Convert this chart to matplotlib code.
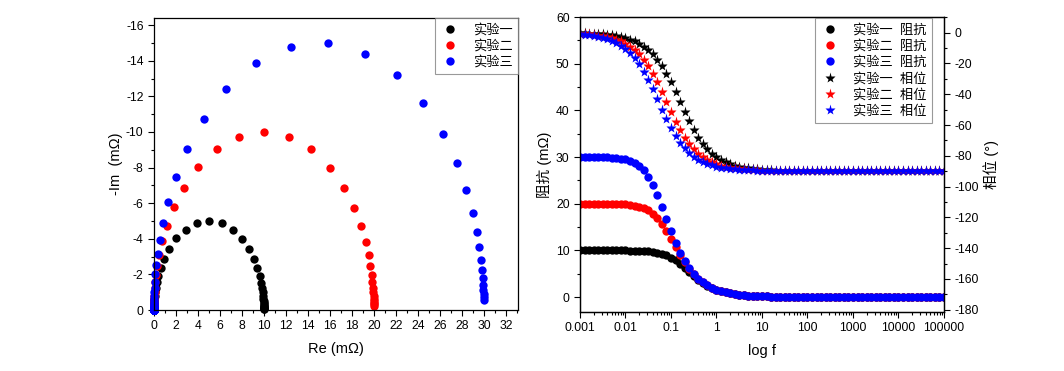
import matplotlib
matplotlib.use("Agg")
import matplotlib.pyplot as plt
from matplotlib.ticker import MultipleLocator, LogLocator, FuncFormatter, NullFormatter

plt.rcParams["font.family"] = ["Liberation Sans", "Noto Sans CJK SC", "DejaVu Sans"]
plt.rcParams["axes.unicode_minus"] = False

# ---- data ----
freq = [
    0.001, 0.00126, 0.00158, 0.002, 0.00251, 0.00316, 0.00398, 0.00501, 0.00631, 0.00794,
    0.01, 0.0126, 0.0158, 0.02, 0.0251, 0.0316, 0.0398, 0.0501, 0.0631, 0.0794,
    0.1, 0.126, 0.158, 0.2, 0.251, 0.316, 0.398, 0.501, 0.631, 0.794,
    1, 1.26, 1.58, 2, 2.51, 3.16, 3.98, 5.01, 6.31, 7.94,
    10, 12.6, 15.8, 20, 25.1, 31.6, 39.8, 50.1, 63.1, 79.4,
    100, 126, 158, 200, 251, 316, 398, 501, 631, 794,
    1000, 1260, 1580, 2000, 2510, 3160, 3980, 5010, 6310, 7940,
    10000, 12600, 15800, 20000, 25100, 31600, 39800, 50100, 63100, 79400,
    100000,
]

tail_z = [0.16, 0.13, 0.10, 0.08, 0.06, 0.05, 0.04, 0.03, 0.03, 0.02,
          0.02, 0.01, 0.01, 0.01, 0.01, 0.01, 0.0, 0.0, 0.0, 0.0] + [0.0] * 21

z1 = [10.0, 10.0, 10.0, 10.0, 10.0, 10.0, 10.0, 10.0, 9.99, 9.99,
      9.98, 9.97, 9.95, 9.92, 9.88, 9.81, 9.70, 9.54, 9.30, 8.95,
      8.47, 7.84, 7.09, 6.24, 5.35, 4.50, 3.71, 3.03, 2.45, 1.96,
      1.57, 1.25, 1.00, 0.80, 0.63, 0.50, 0.40, 0.32, 0.25, 0.20] + tail_z
z2 = [20.0, 20.0, 20.0, 19.99, 19.99, 19.98, 19.98, 19.96, 19.94, 19.90,
      19.84, 19.75, 19.61, 19.40, 19.07, 18.59, 17.89, 16.92, 15.67, 14.16,
      12.45, 10.69, 8.97, 7.41, 6.04, 4.88, 3.92, 3.14, 2.50, 1.99,
      1.59, 1.26, 1.00, 0.80, 0.63, 0.50, 0.40, 0.32, 0.25, 0.20] + tail_z
z3 = [29.99, 29.99, 29.99, 29.98, 29.97, 29.95, 29.92, 29.87, 29.79, 29.67,
      29.48, 29.19, 28.74, 28.08, 27.12, 25.77, 24.00, 21.81, 19.31, 16.66,
      14.06, 11.65, 9.52, 7.71, 6.20, 4.96, 3.96, 3.16, 2.51, 2.00,
      1.59, 1.26, 1.00, 0.80, 0.63, 0.50, 0.40, 0.32, 0.25, 0.20] + tail_z

p1 = [-0.36, -0.45, -0.57, -0.72, -0.90, -1.14, -1.43, -1.80, -2.27, -2.86,
      -3.59, -4.52, -5.69, -7.14, -8.97, -11.24, -14.04, -17.48, -21.62, -26.52,
      -32.13, -38.34, -44.89, -51.40, -57.64, -63.29, -68.21, -72.38, -75.84, -78.67,
      -80.95, -82.80, -84.27, -85.44, -86.37, -87.12, -87.71, -88.18, -88.55, -88.85,
      -89.09, -89.28, -89.42, -89.54, -89.64, -89.71, -89.77, -89.82, -89.86, -89.89,
      -89.91, -89.93, -89.94, -89.95, -89.96, -89.97, -89.98, -89.98, -89.99, -89.99] + [-90.0] * 21
p2 = [-0.72, -0.91, -1.14, -1.44, -1.81, -2.28, -2.86, -3.60, -4.53, -5.70,
      -7.16, -8.99, -11.27, -14.07, -17.51, -21.66, -26.57, -32.20, -38.41, -44.95,
      -51.49, -57.70, -63.34, -68.25, -72.41, -75.87, -78.69, -80.98, -82.81, -84.28,
      -85.45, -86.38, -87.13, -87.71, -88.18, -88.56, -88.85, -89.09, -89.28, -89.43,
      -89.54, -89.64, -89.71, -89.77, -89.82, -89.86, -89.89, -89.91, -89.93, -89.94,
      -89.95, -89.96, -89.97, -89.98, -89.98, -89.99, -89.99, -89.99, -89.99, -90.0] + [-90.0] * 21
p3 = [-1.08, -1.36, -1.71, -2.15, -2.71, -3.41, -4.29, -5.40, -6.78, -8.52,
      -10.67, -13.35, -16.64, -20.61, -25.33, -30.80, -36.88, -43.37, -49.94, -56.25,
      -62.05, -67.15, -71.50, -75.11, -78.07, -80.48, -82.41, -83.96, -85.19, -86.18,
      -86.96, -87.59, -88.08, -88.48, -88.79, -89.04, -89.24, -89.39, -89.52, -89.62,
      -89.70, -89.76, -89.81, -89.85, -89.88, -89.90, -89.92, -89.94, -89.95, -89.96,
      -89.97, -89.98, -89.98, -89.98, -89.99, -89.99, -89.99, -89.99, -90.0, -90.0] + [-90.0] * 21

# Nyquist: real part and imaginary part (Im, negative)
tail_im = [-0.16, -0.13, -0.10, -0.08, -0.06, -0.05, -0.04, -0.03, -0.03, -0.02,
           -0.02, -0.01, -0.01, -0.01, -0.01, -0.01, 0.0, 0.0, 0.0, 0.0] + [0.0] * 21

re1 = [10.0, 10.0, 10.0, 10.0, 10.0, 10.0, 9.99, 9.99, 9.98, 9.98,
       9.96, 9.94, 9.90, 9.85, 9.76, 9.62, 9.41, 9.10, 8.64, 8.01,
       7.17, 6.15, 5.02, 3.89, 2.87, 2.02, 1.38, 0.92, 0.60, 0.39,
       0.25, 0.16, 0.10, 0.06, 0.04, 0.03, 0.02, 0.01, 0.01, 0.0] + [0.0] * 41
im1 = [-0.06, -0.08, -0.10, -0.13, -0.16, -0.20, -0.25, -0.31, -0.40, -0.50,
       -0.63, -0.79, -0.99, -1.23, -1.54, -1.91, -2.35, -2.87, -3.43, -4.00,
       -4.51, -4.86, -5.00, -4.88, -4.52, -4.02, -3.45, -2.88, -2.37, -1.93,
       -1.55, -1.24, -0.99, -0.79, -0.63, -0.50, -0.40, -0.32, -0.25, -0.20] + tail_im
re2 = [20.0, 20.0, 19.99, 19.99, 19.98, 19.97, 19.95, 19.92, 19.87, 19.80,
       19.69, 19.51, 19.24, 18.82, 18.19, 17.27, 16.00, 14.32, 12.28, 10.02,
       7.75, 5.71, 4.03, 2.75, 1.83, 1.19, 0.77, 0.49, 0.31, 0.20,
       0.13, 0.08, 0.05, 0.03, 0.02, 0.01, 0.01, 0.0, 0.0, 0.0] + [0.0] * 41
im2 = [-0.25, -0.32, -0.40, -0.50, -0.63, -0.79, -1.00, -1.26, -1.58, -1.98,
       -2.48, -3.09, -3.83, -4.72, -5.74, -6.86, -8.00, -9.02, -9.74, -10.00,
       -9.74, -9.03, -8.02, -6.88, -5.76, -4.73, -3.85, -3.10, -2.48, -1.98,
       -1.58, -1.26, -1.00, -0.80, -0.63, -0.50, -0.40, -0.32, -0.25, -0.20] + tail_im
re3 = [29.99, 29.98, 29.97, 29.96, 29.93, 29.89, 29.83, 29.73, 29.58, 29.34,
       28.97, 28.40, 27.54, 26.28, 24.51, 22.13, 19.19, 15.85, 12.43, 9.26,
       6.59, 4.52, 3.02, 1.98, 1.28, 0.82, 0.52, 0.33, 0.21, 0.13,
       0.08, 0.05, 0.03, 0.02, 0.01, 0.01, 0.01, 0.0, 0.0, 0.0] + [0.0] * 41
im3 = [-0.57, -0.71, -0.90, -1.13, -1.42, -1.78, -2.24, -2.81, -3.52, -4.39,
       -5.46, -6.74, -8.23, -9.88, -11.60, -13.19, -14.40, -14.98, -14.78, -13.86,
       -12.42, -10.74, -9.03, -7.45, -6.07, -4.89, -3.93, -3.14, -2.51, -2.00,
       -1.59, -1.26, -1.00, -0.80, -0.63, -0.50, -0.40, -0.32, -0.25, -0.20] + tail_im

names = ["实验一", "实验二", "实验三"]
colors = ["black", "red", "blue"]

TICK_FS = 8.7
LABEL_FS = 10.5
LEG_FS = 9.5


def _ticks(ax):
    ax.tick_params(which="major", direction="out", length=4, width=0.8, labelsize=TICK_FS)
    ax.tick_params(which="minor", direction="out", length=2.2, width=0.8)
    for s in ax.spines.values():
        s.set_linewidth(0.9)


fig = plt.figure(figsize=(10.64, 3.71), dpi=100)

# ---- left: Nyquist ----
ax1 = fig.add_axes([0.1447, 0.1644, 0.3421, 0.7871])
for re, im, c, n in zip([re1, re2, re3], [im1, im2, im3], colors, names):
    ax1.plot(re, im, "o", color=c, ms=6.0, mec="none", label=n, clip_on=False)
ax1.set_xlim(0, 33.1)
ax1.set_ylim(0, -16.4)
ax1.xaxis.set_major_locator(MultipleLocator(2))
ax1.xaxis.set_minor_locator(MultipleLocator(1))
ax1.yaxis.set_major_locator(MultipleLocator(2))
ax1.yaxis.set_minor_locator(MultipleLocator(1))
_ticks(ax1)
ax1.tick_params(top=False, right=False, which="both")
ax1.set_xlabel("Re (mΩ)", fontsize=LABEL_FS, labelpad=7)
ax1.set_ylabel("-Im  (mΩ)", fontsize=LABEL_FS, labelpad=2)
leg1 = ax1.legend(loc="upper right", borderaxespad=0, numpoints=1, fontsize=LEG_FS,
                  frameon=True, fancybox=False, edgecolor="#808080",
                  labelspacing=0.25, handletextpad=1.0, borderpad=0.4, handlelength=1.5)
leg1.get_frame().set_linewidth(0.8)

# ---- right: Bode ----
ax2 = fig.add_axes([0.5451, 0.159, 0.3421, 0.7951])
ax3 = ax2.twinx()
handles = []
for z, c, n in zip([z1, z2, z3], colors, names):
    h, = ax2.plot(freq, z, "o", color=c, ms=6.0, mec="none", label=f"{n}  阻抗")
    handles.append(h)
for p, c, n in zip([p1, p2, p3], colors, names):
    h, = ax3.plot(freq, p, "*", color=c, ms=8.0, mec="none", label=f"{n}  相位")
    handles.append(h)

ax2.set_xscale("log")
ax2.set_xlim(0.001, 100000)
ax2.set_ylim(-3.2, 60)
ax3.set_ylim(-181.5, 10.2)
ax2.xaxis.set_major_locator(LogLocator(base=10, numticks=20))
ax2.xaxis.set_minor_locator(LogLocator(base=10, subs=range(2, 10), numticks=100))
ax2.xaxis.set_major_formatter(FuncFormatter(lambda v, _: f"{v:g}" if v < 1e5 else "100000"))
ax2.xaxis.set_minor_formatter(NullFormatter())
ax2.yaxis.set_major_locator(MultipleLocator(10))
ax2.yaxis.set_minor_locator(MultipleLocator(5))
ax3.yaxis.set_major_locator(MultipleLocator(20))
ax3.yaxis.set_minor_locator(MultipleLocator(10))
_ticks(ax2)
_ticks(ax3)
ax2.tick_params(top=False, right=False, which="both")
ax2.set_xlabel("log f", fontsize=LABEL_FS, labelpad=7)
ax2.set_ylabel("阻抗 (mΩ)", fontsize=LABEL_FS, labelpad=3)
ax3.set_ylabel("相位 (°)", fontsize=LABEL_FS, labelpad=3)
leg2 = ax3.legend(handles=handles, loc="upper right", bbox_to_anchor=(0.97, 1.0),
                  borderaxespad=0.1, numpoints=1, fontsize=LEG_FS, frameon=True,
                  fancybox=False, edgecolor="#808080", labelspacing=0.25,
                  handletextpad=1.0, borderpad=0.4, handlelength=1.5)
leg2.get_frame().set_linewidth(0.8)

fig.savefig("out.png", dpi=100, facecolor="white")
